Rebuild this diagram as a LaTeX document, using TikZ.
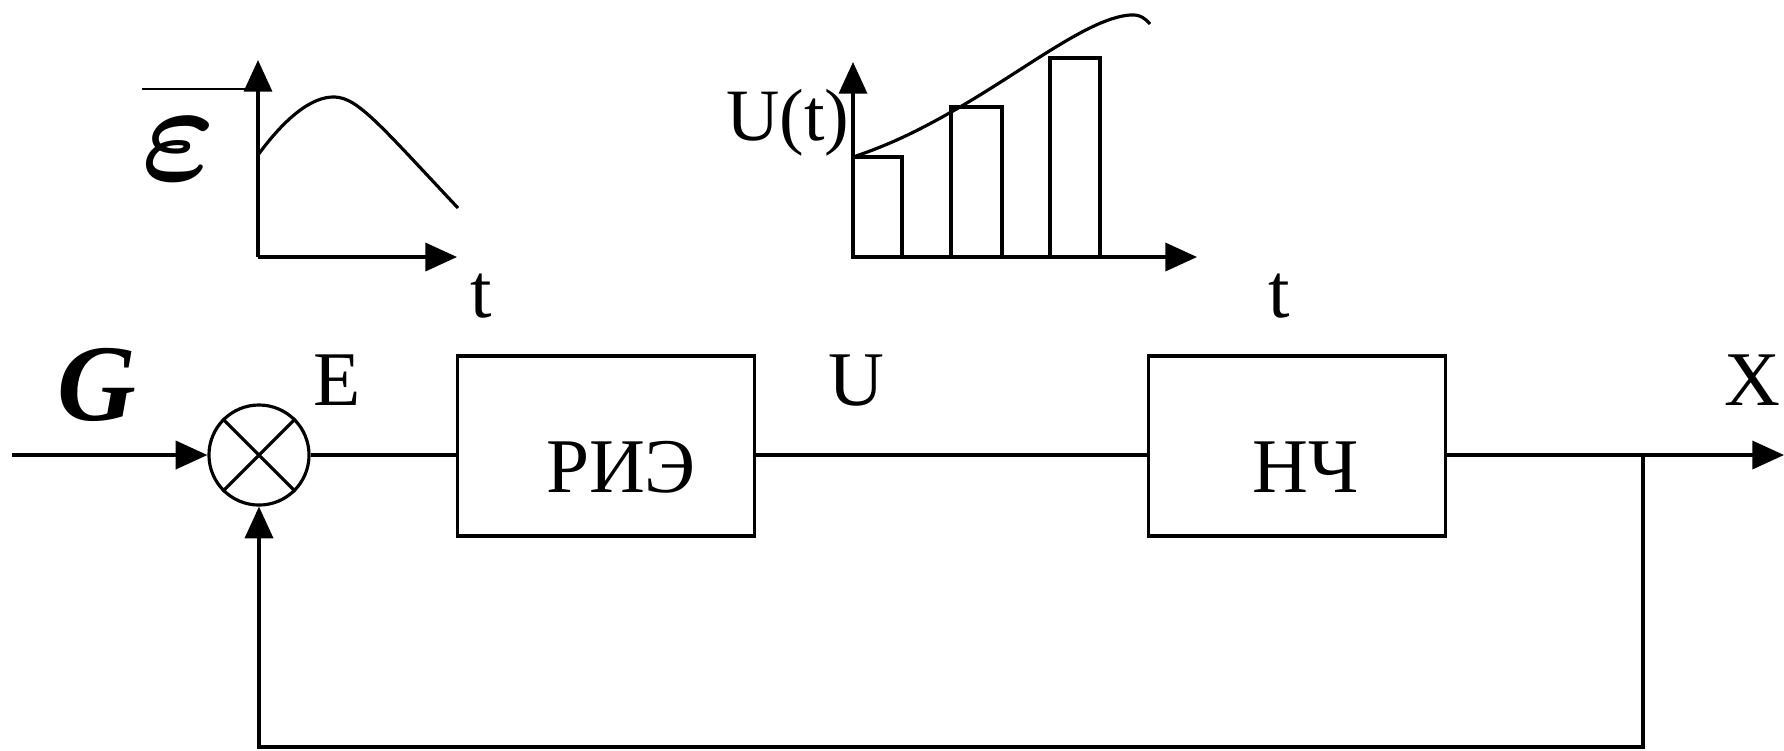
\RequirePackage{fix-cm}
\documentclass[tikz,border=0pt]{standalone}
\usepackage{amsmath}
\usepackage{fontspec}
\setmainfont{Liberation Serif}
\usetikzlibrary{arrows.meta, positioning}

\begin{document}
\begin{tikzpicture}[x=0.01cm, y=-0.01cm,
    block/.style={rectangle, draw, line width=1pt, minimum width=2.97cm, minimum height=1.8cm, inner sep=0pt},
    sumnode/.style={circle, draw, line width=0.9pt, minimum size=1cm, inner sep=0pt},
    wire/.style={line width=0.9pt},
    sig/.style={-{Triangle[length=9pt,width=8pt]}, line width=0.9pt},
    lbl/.style={anchor=base, inner sep=0pt, font=\fontsize{22}{26}\selectfont}
]
\useasboundingbox (0,0) rectangle (1784,750);

% main loop
\node[sumnode] (sum) at (259,455) {};
\draw[wire] (sum.45) -- (sum.225) (sum.135) -- (sum.-45);
\node[block] (rie) at (606,446) {};
\node[block] (nch) at (1297,446) {};
\node[lbl] (rielbl) at (621,492) {РИЭ};
\node[lbl] (nchlbl) at (1306,492) {НЧ};

\coordinate (in) at (12,455);
\coordinate (out) at (1784,455);
\coordinate (branch) at (1643,455);
\coordinate (fb) at (1643,747);

\draw[sig] (in) -- (sum.west);
\draw[wire] (sum.east) -- (sum.east -| rie.west);
\draw[wire] (sum.east -| rie.east) -- (sum.east -| nch.west);
\draw[sig] (sum.east -| nch.east) -- (out);
\draw[sig] (branch) -- (fb) -- (fb -| sum.south) -- (sum.south);

\node[lbl, font=\fontsize{31}{36}\selectfont\bfseries\itshape] (glbl) at (97,420) {G};
\node[lbl] (elbl) at (337,405) {E};
\node[lbl] (ulbl) at (856,405) {U};
\node[lbl] (xlbl) at (1752,405) {X};

% error signal graph
\coordinate (eo) at (258,257);
\coordinate (ey) at (258,60);
\coordinate (ex) at (457,257);
\draw[sig] (eo) -- (ey);
\draw[sig] (eo) -- (ex);
\draw[wire] (258,155) .. controls (285,118) and (312,96) .. (335,97)
    .. controls (358,98) and (380,125) .. (458,208);
\draw[line width=0.6pt] (142,89) -- (250,89);
\node[lbl, font=\fontsize{40}{44}\selectfont] (epslbl) at (179,180) {$\boldsymbol{\varepsilon}$};
\node[lbl] (tleft) at (481,317) {t};

% sampled signal graph
\coordinate (uo) at (853,257);
\coordinate (uy) at (853,62);
\coordinate (ux) at (1197,257);
\draw[sig] (uo) -- (uy);
\draw[sig] (uo) -- (ux);
\foreach \xa/\xb/\h in {853/902/157, 951/1002/107, 1050/1100/58}
    \draw[wire] (\xa,257) rectangle (\xb,\h);
\draw[wire] (853,157) .. controls (895,143) and (925,127) .. (960,107)
    .. controls (1030,66) and (1090,18) .. (1130,15)
    .. controls (1140,14) and (1146,19) .. (1150,24);
\node[lbl, font=\fontsize{21}{25}\selectfont] (utlbl) at (788,140) {U(t)};
\node[lbl] (tright) at (1279,317) {t};
\end{tikzpicture}
\end{document}
